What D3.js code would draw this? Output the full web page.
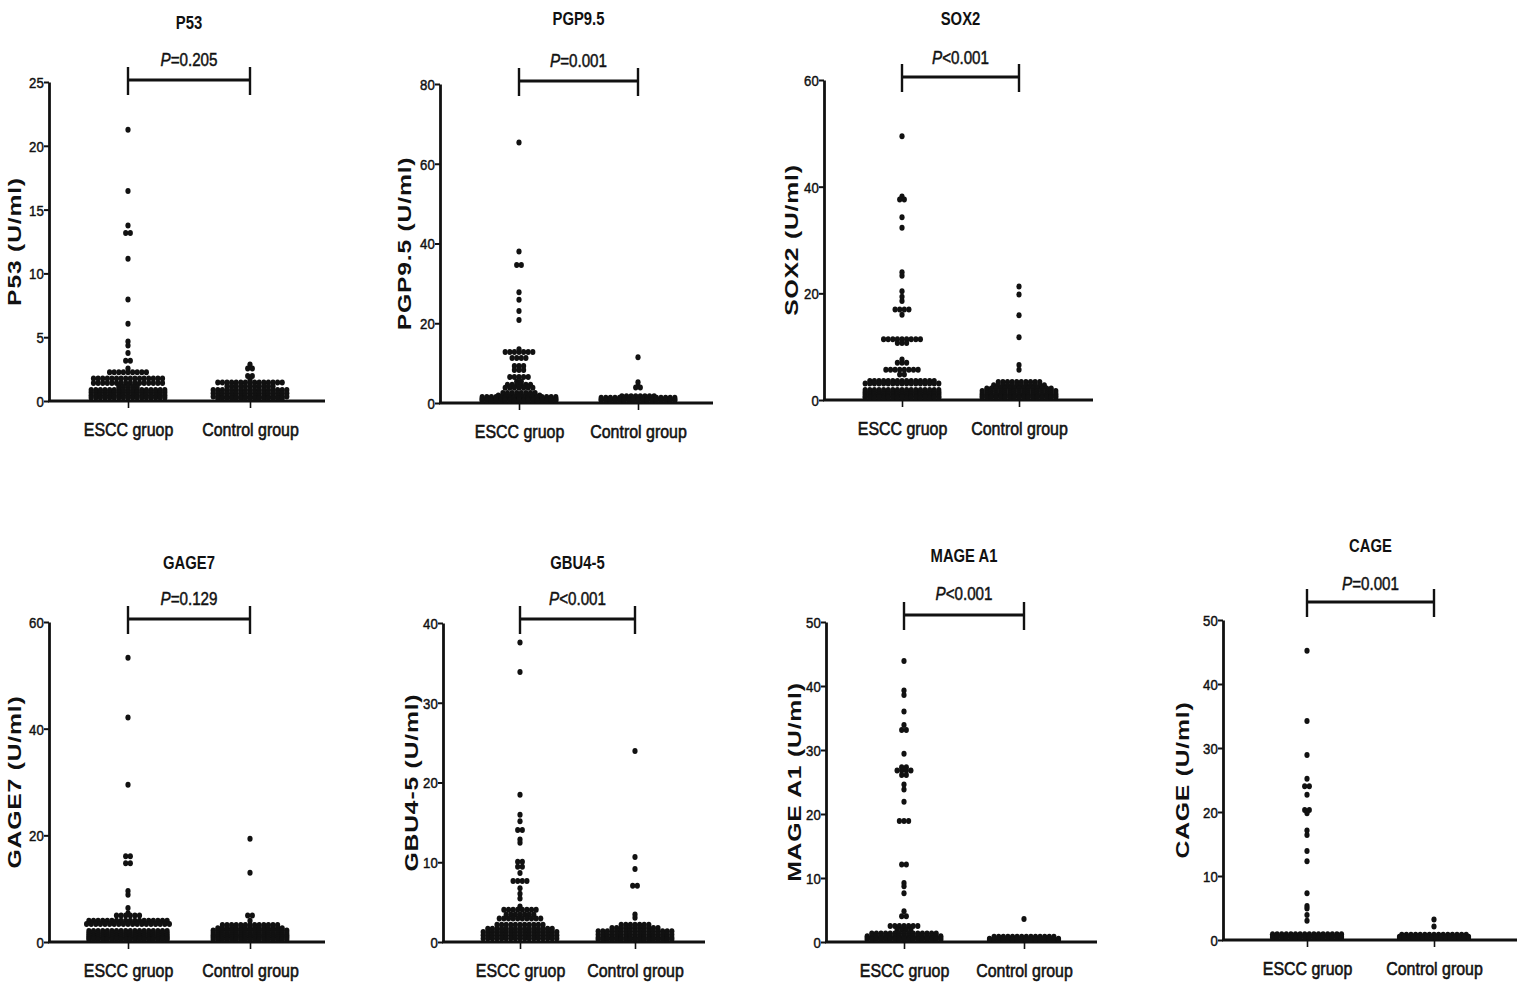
<!DOCTYPE html>
<html>
<head>
<meta charset="utf-8">
<script src="https://cdn.jsdelivr.net/npm/d3@7/dist/d3.min.js"></script>
<style>
    html, body { margin: 0; padding: 0; background: #fff; }
    svg { display: block; font-family: "Liberation Sans", Arial, sans-serif; }
    .tick text { font-size: 15px; fill: #111; stroke: #111; stroke-width: 0.45px; }
    .heavy { stroke: #111; stroke-width: 0.5px; }
    .ytitle { font-weight: bold; font-size: 18px; letter-spacing: 0.6px; fill: #111; }
</style>
</head>
<body>
<div id="chart"></div>
<script>
// Groups and tick labels
const groups = ['ESCC gruop', 'Control group'];
const p53Ticks = [0, 5, 10, 15, 20, 25];
const pgpTicks = [0, 20, 40, 60, 80];
const sox2Ticks = [0, 20, 40, 60];
const gage7Ticks = [0, 20, 40, 60];
const gbuTicks = [0, 10, 20, 30, 40];
const mageTicks = [0, 10, 20, 30, 40, 50];
const cageTicks = [0, 10, 20, 30, 40, 50];

// Values, as [value, number of dots sharing that row]
const p53Escc = [[21.1, 1], [16.3, 1], [13.6, 1], [13.0, 2], [11.0, 1], [7.8, 1], [5.9, 1], [4.5, 1], [4.2, 1],
    [3.6, 1], [3.0, 2], [2.4, 1], [2.1, 9], [1.6, 16], [1.25, 16], [0.95, 5], [0.7, 17], [0.5, 17], [0.3, 17], [0.1, 17]];
const p53Control = [[2.7, 1], [2.4, 2], [1.8, 2], [1.5, 1], [1.3, 15], [1.0, 11], [0.7, 17], [0.45, 17], [0.2, 17], [0.05, 15]];

const pgpEscc = [[64.8, 1], [37.5, 1], [34.1, 2], [27.3, 1], [25.4, 1], [22.6, 1], [20.3, 1], [13.0, 1], [12.3, 7],
    [10.8, 4], [8.8, 3], [7.8, 3], [6.0, 5], [4.9, 2], [4.1, 6], [3.3, 7], [2.0, 8], [1.4, 10], [1.0, 17], [0.6, 17], [0.3, 17], [0.05, 17]];
const pgpControl = [[11.0, 1], [4.7, 1], [3.7, 1], [3.4, 2], [1.2, 8], [0.8, 17], [0.4, 17], [0.1, 17]];

const sox2Escc = [[49.1, 1], [37.8, 1], [37.2, 2], [33.9, 1], [31.9, 1], [23.6, 1], [22.9, 1], [20.0, 1], [19.0, 1],
    [18.2, 1], [16.6, 4], [15.6, 1], [11.0, 9], [10.3, 3], [7.2, 1], [6.6, 3], [5.3, 8], [4.4, 2], [3.2, 15], [2.7, 17],
    [1.5, 17], [1.1, 17], [0.7, 17], [0.3, 17], [0.05, 17]];
const sox2Control = [[20.9, 1], [19.4, 1], [15.5, 1], [11.4, 1], [6.2, 1], [5.3, 1], [3.0, 10], [2.4, 12],
    [1.8, 15], [1.3, 17], [0.8, 17], [0.4, 17], [0.1, 17]];

const gage7Escc = [[52.9, 1], [41.7, 1], [29.1, 1], [15.7, 2], [14.4, 2], [9.2, 1], [8.5, 1], [6.0, 1], [5.0, 1], [4.6, 6],
    [3.6, 18], [3.0, 19], [1.7, 18], [1.2, 18], [0.8, 18], [0.4, 18], [0.1, 18]];
const gage7Control = [[19.0, 1], [12.6, 1], [4.6, 2], [3.6, 1], [2.8, 13], [2.2, 15], [1.8, 17], [1.3, 17], [0.9, 17], [0.5, 17], [0.1, 17]];

const gbuEscc = [[37.3, 1], [33.6, 1], [18.2, 1], [15.7, 1], [14.9, 1], [13.8, 2], [12.6, 1], [12.2, 1], [9.8, 2], [9.2, 2],
    [8.4, 1], [7.4, 4], [6.5, 1], [5.8, 1], [5.2, 1], [4.2, 1], [3.8, 8], [3.2, 7], [2.7, 10], [1.9, 11],
    [1.4, 15], [1.0, 17], [0.6, 17], [0.2, 17]];
const gbuControl = [[23.7, 1], [10.4, 1], [8.9, 1], [6.8, 2], [3.2, 1], [2.8, 1], [1.9, 7], [1.5, 11], [1.1, 17], [0.7, 17], [0.3, 17], [0.05, 17]];

const mageEscc = [[43.6, 1], [39.0, 1], [38.3, 1], [35.7, 1], [33.6, 1], [32.8, 2], [29.1, 1], [27.0, 2], [26.5, 4], [25.8, 2],
    [24.3, 1], [23.5, 1], [21.6, 1], [18.6, 3], [11.8, 2], [8.9, 1], [8.4, 1], [7.3, 1], [4.5, 1], [3.7, 2], [2.2, 7], [1.6, 4],
    [1.0, 15], [0.6, 17], [0.3, 17], [0.05, 17]];
const mageControl = [[3.3, 1], [0.5, 14], [0.2, 16], [0.05, 16]];

const cageEscc = [[44.9, 1], [33.9, 1], [28.6, 1], [24.9, 1], [23.7, 2], [22.4, 1], [20.0, 2], [19.5, 1], [16.8, 1], [16.1, 1],
    [13.6, 1], [12.0, 1], [7.0, 1], [5.0, 1], [4.6, 1], [3.6, 1], [2.7, 1], [0.6, 16], [0.3, 16], [0.05, 16]];
const cageControl = [[2.9, 1], [1.8, 1], [0.5, 15], [0.2, 16], [0.05, 16]];

const titles = ['P53', 'PGP9.5', 'SOX2', 'GAGE7', 'GBU4-5', 'MAGE A1', 'CAGE'];
const pLabels = ['=0.205', '=0.001', '<0.001', '=0.129', '<0.001', '<0.001', '=0.001'];
const yMax = [25, 80, 60, 60, 40, 50, 50];

const panels = [
    { escc: p53Escc, control: p53Control, ticks: p53Ticks, axisX: 49, y0: 401, yTop: 82, cx: [128, 250], xEnd: 325, bracketY: 80, titleY: 29, pY: 66, titleDx: 34 },
    { escc: pgpEscc, control: pgpControl, ticks: pgpTicks, axisX: 440, y0: 403, yTop: 84, cx: [519, 638], xEnd: 713, bracketY: 81, titleY: 25, pY: 67, titleDx: 35 },
    { escc: sox2Escc, control: sox2Control, ticks: sox2Ticks, axisX: 824, y0: 400, yTop: 80, cx: [902, 1019], xEnd: 1093, bracketY: 77, titleY: 25, pY: 64, titleDx: 32 },
    { escc: gage7Escc, control: gage7Control, ticks: gage7Ticks, axisX: 49, y0: 942, yTop: 622, cx: [128, 250], xEnd: 325, bracketY: 619, titleY: 569, pY: 605, titleDx: 34 },
    { escc: gbuEscc, control: gbuControl, ticks: gbuTicks, axisX: 443, y0: 942, yTop: 623, cx: [520, 635], xEnd: 705, bracketY: 619, titleY: 569, pY: 605, titleDx: 31 },
    { escc: mageEscc, control: mageControl, ticks: mageTicks, axisX: 826, y0: 942, yTop: 622, cx: [904, 1024], xEnd: 1097, bracketY: 615, titleY: 562, pY: 600, titleDx: 31 },
    { escc: cageEscc, control: cageControl, ticks: cageTicks, axisX: 1223, y0: 940, yTop: 620, cx: [1307, 1434], xEnd: 1517, bracketY: 602, titleY: 552, pY: 590, titleDx: 40 }
];

const width = 1535;
const height = 998;
const dotRx = 2.6;
const dotRy = 3.0;
const dotStep = 4.6;
const lineWidth = 2.8;
// the figure is squeezed sideways, so horizontal text is narrower than its height suggests
const squeeze = 0.84;

const svg = d3.select('#chart')
    .append('svg')
    .attr('width', width)
    .attr('height', height)
    .attr('viewBox', `0 0 ${width} ${height}`);

panels.forEach((panel, index) => drawPanel(svg, panel, index));

function drawPanel(svg, panel, index) {
    const g = svg.append('g');

    const x = d3.scalePoint()
        .domain(groups)
        .range(panel.cx);

    const y = d3.scaleLinear()
        .domain([0, yMax[index]])
        .range([panel.y0, panel.yTop]);

    // y axis
    const yAxis = g.append('g')
        .attr('transform', `translate(${panel.axisX},0)`)
        .call(d3.axisLeft(y).tickValues(panel.ticks).tickSize(5).tickSizeOuter(0).tickPadding(1));
    yAxis.select('.domain').attr('stroke-width', lineWidth).attr('stroke', '#111');
    yAxis.selectAll('.tick line').attr('stroke-width', 2).attr('stroke', '#111');
    yAxis.selectAll('.tick text')
        .attr('dy', '0.36em')
        .attr('transform', 'scale(0.88,1)');

    // x baseline + group ticks
    g.append('line')
        .attr('x1', panel.axisX - 1)
        .attr('x2', panel.xEnd)
        .attr('y1', y(0))
        .attr('y2', y(0))
        .attr('stroke', '#111')
        .attr('stroke-width', lineWidth);

    const xAxis = g.append('g')
        .attr('transform', `translate(0,${y(0)})`)
        .call(d3.axisBottom(x).tickSize(7).tickPadding(15));
    xAxis.select('.domain').remove();
    xAxis.selectAll('.tick line').attr('stroke-width', 1.6).attr('stroke', '#111');
    xAxis.selectAll('.tick text')
        .style('font-size', '19px')
        .style('stroke-width', '0.6px')
        .attr('dy', '0.71em')
        .attr('transform', `scale(${squeeze},1)`);

    // dots
    const dots = [];
    [panel.escc, panel.control].forEach((rows, groupIndex) => {
        const cx = x(groups[groupIndex]);
        rows.forEach(([value, count]) => {
            for (let i = 0; i < count; i++) {
                dots.push({ x: cx + (i - (count - 1) / 2) * dotStep, value });
            }
        });
    });

    g.append('g')
        .selectAll('ellipse')
        .data(dots)
        .join('ellipse')
        .attr('cx', d => d.x)
        .attr('cy', d => y(d.value) - dotRy + 1)
        .attr('rx', dotRx)
        .attr('ry', dotRy)
        .attr('fill', '#111');

    // significance bracket
    const bracket = g.append('g').attr('stroke', '#111');
    bracket.append('line')
        .attr('x1', x(groups[0])).attr('x2', x(groups[1]))
        .attr('y1', panel.bracketY).attr('y2', panel.bracketY)
        .attr('stroke-width', 3.2);
    groups.forEach(name => {
        bracket.append('line')
            .attr('x1', x(name)).attr('x2', x(name))
            .attr('y1', panel.bracketY - 13).attr('y2', panel.bracketY + 15)
            .attr('stroke-width', 2.4);
    });

    const midX = (panel.cx[0] + panel.cx[1]) / 2;

    const pText = g.append('text')
        .attr('class', 'heavy')
        .attr('transform', `translate(${midX},${panel.pY}) scale(0.8,1)`)
        .attr('text-anchor', 'middle')
        .style('font-size', '19px')
        .attr('fill', '#111');
    pText.append('tspan').style('font-style', 'italic').text('P');
    pText.append('tspan').text(pLabels[index]);

    g.append('text')
        .attr('transform', `translate(${midX},${panel.titleY}) scale(0.78,1)`)
        .attr('text-anchor', 'middle')
        .style('font-size', '19px')
        .style('font-weight', 'bold')
        .attr('fill', '#111')
        .text(titles[index]);

    g.append('text')
        .attr('class', 'ytitle')
        .attr('transform', `translate(${panel.axisX - panel.titleDx},${(panel.y0 + panel.yTop) / 2}) rotate(-90) scale(1.37,1)`)
        .attr('text-anchor', 'middle')
        .attr('dy', '0.36em')
        .text(`${titles[index]} (U/ml)`);
}
</script>
</body>
</html>
